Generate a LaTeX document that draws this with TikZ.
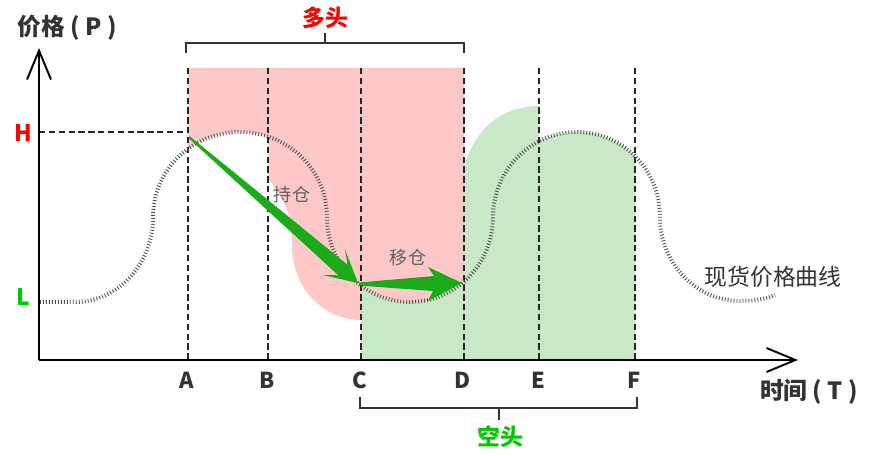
\documentclass[tikz,border=0pt]{standalone}
\usepackage{fontspec}
\setmainfont{Noto Sans CJK SC}
\usetikzlibrary{arrows.meta,positioning}

\definecolor{longpink}{RGB}{255,200,200}
\definecolor{shortgreen}{RGB}{200,232,200}
\definecolor{movegreen}{RGB}{26,170,26}
\definecolor{labelgreen}{RGB}{0,200,0}
\definecolor{labelred}{RGB}{255,0,0}
\definecolor{textgray}{RGB}{51,51,51}

\begin{document}
\begin{tikzpicture}[
  x=0.02cm, y=-0.02cm,
  axis_line/.style={line width=1.1pt,draw=black,-{Straight Barb[length=0.58cm,width=0.48cm]}},
  guide_dash/.style={line width=0.6pt,draw=black!85,dash pattern=on 3.6pt off 2pt},
  brace_line/.style={line width=1.1pt,draw=textgray},
  spot_dots/.style={line width=2.2pt,draw=black!70,dash pattern=on 0.5pt off 1.2pt},
  move_arrow/.style={fill=movegreen},
  axis_label/.style={font=\fontsize{13.5pt}{13.5pt}\selectfont\bfseries,text=textgray,inner sep=1pt},
  time_label/.style={font=\fontsize{12.5pt}{12.5pt}\selectfont\bfseries,text=textgray,inner sep=1pt},
  level_label/.style={font=\fontsize{13pt}{13pt}\selectfont\bfseries,inner sep=1pt},
  zone_label/.style={font=\fontsize{13pt}{13pt}\selectfont\bfseries,inner sep=1pt},
  move_label/.style={font=\fontsize{10.3pt}{10.3pt}\selectfont,text=black!62,inner sep=1pt},
  curve_label/.style={font=\fontsize{13pt}{13pt}\selectfont,text=textgray,inner sep=1pt},
  spot_curve/.style={insert path={(40,302) -- (75,302)
    .. controls (118,302) and (153,264) .. (153,217)
    .. controls (153,170) and (192,132) .. (240,132)
    .. controls (288,132) and (327,170) .. (327,217)
    .. controls (327,264) and (364,302) .. (410,302)
    .. controls (456,302) and (493,264) .. (493,217)
    .. controls (493,170) and (531,132) .. (577,132)
    .. controls (623,132) and (660,170) .. (660,217)
    .. controls (660,263) and (696,301) .. (740,301)
    .. controls (755,301) and (765,299) .. (775,295)}}
  ]
  \useasboundingbox (0,0) rectangle (876,456);

%zones
  \fill[longpink] (188,68) -- (464,68) -- (464,320) -- (361,320)
    .. controls (325,320) and (292,290) .. (292,245)
    .. controls (292,215) and (285,200) .. (268,178)
    -- (268,360) -- (188,360) -- cycle;
  \begin{scope}
    \clip (188,0) rectangle (268,456);
    \fill[white,spot_curve] -- (775,360) -- (40,360) -- cycle;
  \end{scope}
  \begin{scope}
    \clip (361,0) rectangle (635,456);
    \fill[shortgreen,spot_curve] -- (775,360) -- (40,360) -- cycle;
  \end{scope}
  \fill[shortgreen] (464,360) -- (464,168) .. controls (474,128) and (503,106) .. (539,106) -- (539,360) -- cycle;

%time marks
  \coordinate (origin) at (39,360);
  \coordinate (H_mark) at (39,132);
  \foreach \t/\x in {A/188,B/268,C/361,D/464,E/539,F/635}
  {
    \coordinate (t_\t) at (\x,360);
    \coordinate (top_\t) at (\x,68);
    \draw[guide_dash] (top_\t) -- (t_\t);
    \node (lab_\t) [time_label] at (\x-1,380) {\t};
  }
  \draw[guide_dash] (H_mark) -- (t_A |- H_mark);

%spot price
  \draw[spot_dots,spot_curve];

%moves
  \fill[move_arrow] (188.3,137.8) -- (338.3,275.3) -- (322.7,275) -- (358,283)
    -- (344.9,249.2) -- (347.5,264.7) -- (189.7,136.3) -- cycle;
  \fill[move_arrow] (359,282.5) -- (434,276) -- (428,267) -- (462,283)
    -- (428,301) -- (433,291) -- (359,285.5) -- cycle;

%axes
  \draw[axis_line] (origin) -- (39,48);
  \draw[axis_line] (origin) -- (798,360);

%braces
  \coordinate (long_mid) at (325,43);
  \coordinate (short_mid) at (499,408);
  \draw[brace_line] (186,53) -- (186,43) -- (464,43) -- (464,53);
  \draw[brace_line] (long_mid) -- (325,33);
  \draw[brace_line] (360,397) -- (360,408) -- (637,408) -- (637,397);
  \draw[brace_line] (short_mid) -- (499,420);

%labels
  \node (long_lab) [zone_label,text=labelred] at (325,18) {多头};
  \node (short_lab) [zone_label,text=labelgreen] at (500,437) {空头};
  \node (p_lab) [axis_label] at (67,28) {价格 ( P )};
  \node (t_lab) [axis_label] at (809,392) {时间 ( T )};
  \node (H_lab) [level_label,text=labelred] at (23,133) {H};
  \node (L_lab) [level_label,text=labelgreen] at (23,297) {L};
  \node (hold_lab) [move_label] at (292,195) {持仓};
  \node (roll_lab) [move_label] at (408,258) {移仓};
  \node (spot_lab) [curve_label] at (773,277) {现货价格曲线};

\end{tikzpicture}
\end{document}
